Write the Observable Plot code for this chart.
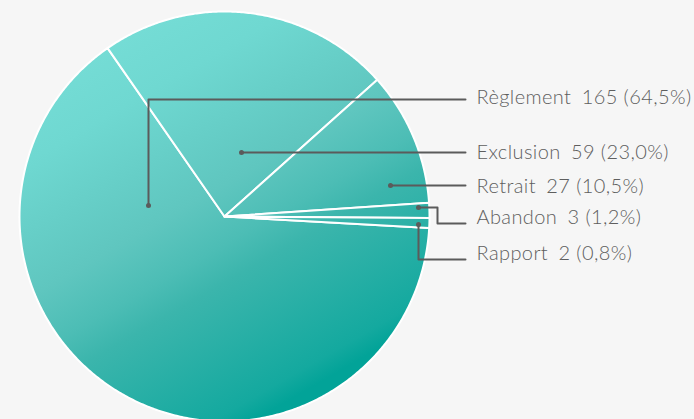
<!DOCTYPE html>
<html><head><meta charset="utf-8">
<script src="https://cdn.jsdelivr.net/npm/d3@7"></script>
<script src="https://cdn.jsdelivr.net/npm/@observablehq/plot@0.6"></script>
<style>html,body{margin:0;padding:0;background:#f6f6f6;} svg{display:block} svg text{letter-spacing:0.4px}</style>
</head><body><div id="chart"></div>
<script>
// ---- data ----
const categories = ["Règlement", "Exclusion", "Retrait", "Abandon", "Rapport"];
const counts = [165, 59, 27, 3, 2];
const percentLabels = ["64,5%", "23,0%", "10,5%", "1,2%", "0,8%"];

// ---- layout ----
const W = 694, H = 419, cx = 224, cy = 216, R = 205;
const startDeg = 93.2;
const leaderPaths = [
  [[148, 205], [148, 99], [465, 99]],
  [[241, 152], [465, 152]],
  [[390, 185], [465, 185]],
  [[418, 207], [437, 207], [437, 223], [465, 223]],
  [[418, 224], [418, 259], [465, 259]]
];
const labelX = 476;
const labelY = [97, 152, 186, 217, 253];

const rad = d => d * Math.PI / 180;
const arcs = d3.pie().sort(null).startAngle(rad(startDeg)).endAngle(rad(startDeg + 360))(counts);
const slicePts = [];
arcs.forEach((a, i) => {
  slicePts.push({k: i, x: cx, y: cy});
  const n = Math.max(2, Math.ceil((a.endAngle - a.startAngle) / rad(0.5)));
  for (let j = 0; j <= n; j++) {
    const t = a.startAngle + (a.endAngle - a.startAngle) * j / n;
    slicePts.push({k: i, x: cx + R * Math.sin(t), y: cy - R * Math.cos(t)});
  }
  slicePts.push({k: i, x: cx, y: cy});
});
const leaderPts = leaderPaths.flatMap((p, i) => p.map(([x, y]) => ({k: i, x, y})));
const dots = leaderPaths.map((p, i) => ({k: i, x: p[0][0], y: p[0][1]}));
const labels = categories.map((c, i) => ({
  text: `${c}\u2002${counts[i]} (${percentLabels[i]})`, x: labelX, y: labelY[i]
}));

const plot = Plot.plot({
  width: W, height: H,
  margin: 0,
  style: {background: "#f6f6f6", overflow: "visible"},
  x: {domain: [0, W], range: [0, W], axis: null},
  y: {domain: [0, H], range: [0, H], axis: null},
  marks: [
    Plot.line(slicePts, {x: "x", y: "y", z: "k", fill: "url(#pieGrad)", stroke: "white", strokeWidth: 2, strokeLinejoin: "round"}),
    Plot.line(leaderPts, {x: "x", y: "y", z: "k", stroke: "#5b5b5b", strokeWidth: 2}),
    Plot.dot(dots, {x: "x", y: "y", r: 2.5, fill: "#5b5b5b"}),
    Plot.text(labels, {x: "x", y: "y", text: "text", textAnchor: "start", fontSize: 20, fontFamily: "Lato", fontWeight: 300, fill: "#5e5e5e"})
  ]
});

const sx = plot.scale("x"), sy = plot.scale("y");
const gx1 = 37.5, gy1 = 70.3, gx2 = 243, gy2 = 426;
const grad = d3.select(plot).insert("defs", ":first-child")
  .append("linearGradient").attr("id", "pieGrad")
  .attr("gradientUnits", "userSpaceOnUse")
  .attr("x1", sx.apply(gx1)).attr("y1", sy.apply(gy1))
  .attr("x2", sx.apply(gx2)).attr("y2", sy.apply(gy2));
[[0, "#76ddd6"], [0.18, "#6fd8d1"], [0.467, "#5fc6bf"], [0.594, "#4cbdb5"], [0.674, "#3bb5ac"], [0.951, "#14a99f"], [1, "#02a398"]]
  .forEach(([o, c]) => grad.append("stop").attr("offset", o).attr("stop-color", c));

document.getElementById("chart").appendChild(plot);
</script>
</body></html>
